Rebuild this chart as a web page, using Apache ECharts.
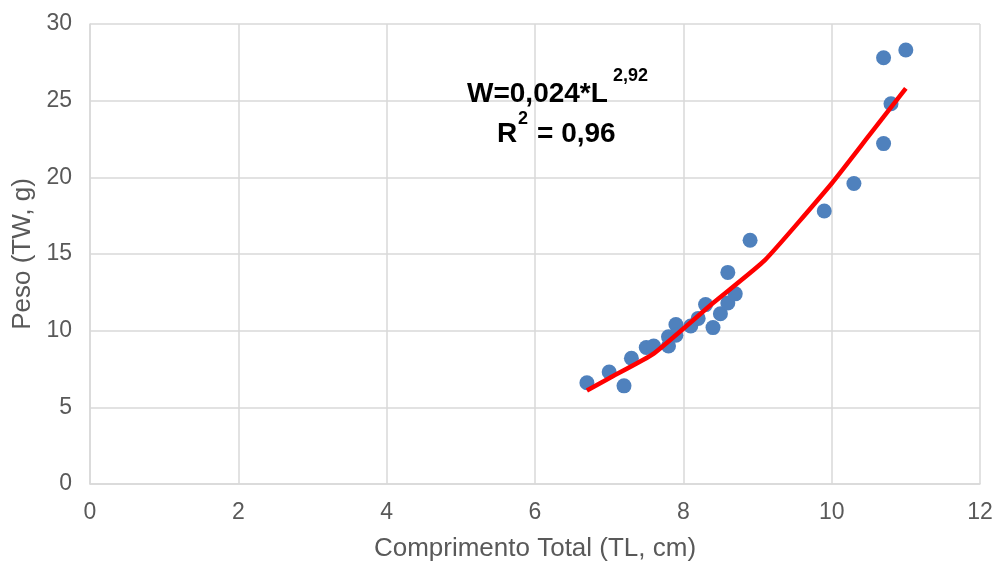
<!DOCTYPE html>
<html>
<head>
<meta charset="utf-8">
<script src="https://cdn.jsdelivr.net/npm/echarts@6/dist/echarts.min.js"></script>
<style>
html,body{margin:0;padding:0;background:#fff;}
#chart{width:997px;height:562px;}
</style>
</head>
<body>
<div id="chart"></div>
<script>
// Observed data (Comprimento Total, Peso)
var lengthTL = [6.7, 7.0, 7.2, 7.3, 7.5, 7.6, 7.8, 7.8, 7.9, 7.9, 8.1, 8.2, 8.3, 8.4, 8.5, 8.6, 8.6, 8.7, 8.9, 9.9, 10.3, 10.7, 10.7, 10.8, 11.0];
var weightTW = [6.6, 7.3, 6.4, 8.2, 8.9, 9.0, 9.0, 9.6, 10.4, 9.7, 10.3, 10.8, 11.7, 10.2, 11.1, 11.8, 13.8, 12.4, 15.9, 17.8, 19.6, 22.2, 27.8, 24.8, 28.3];

// Fitted curve
var fitX = [6.7, 7.0, 7.6, 8.4, 9.1, 10.0, 10.5, 11.0];
var fitY = [6.1, 6.9, 8.5, 11.8, 14.6, 19.6, 22.7, 25.8];

var xTicks = [0, 2, 4, 6, 8, 10, 12];
var yTicks = [0, 5, 10, 15, 20, 25, 30];

var equationMain = 'W=0,024*L';
var equationExp = '2,92';
var r2Label = 'R';
var r2Exp = '2';
var r2Value = '= 0,96';

var FONT = "'Liberation Sans', Arial, sans-serif";
var GRID = '#d9d9d9';
var TXT = '#595959';

var scatterData = lengthTL.map(function (x, i) { return [x, weightTW[i]]; });
var fitData = fitX.map(function (x, i) { return [x, fitY[i]]; });

var chart = echarts.init(document.getElementById('chart'), null, {renderer: 'canvas'});
chart.setOption({
  animation: false,
  backgroundColor: '#ffffff',
  grid: {left: 90, right: 17, top: 24, bottom: 78, containLabel: false, outerBoundsMode: 'none'},
  xAxis: {
    type: 'value',
    min: xTicks[0], max: xTicks[xTicks.length - 1], interval: 2,
    name: 'Comprimento Total (TL, cm)',
    nameLocation: 'middle', nameGap: 52,
    nameTextStyle: {color: TXT, fontSize: 26, fontFamily: FONT},
    axisLine: {show: true, lineStyle: {color: GRID, width: 1.5}},
    axisTick: {show: false},
    axisLabel: {color: TXT, fontSize: 23, fontFamily: FONT, margin: 17},
    splitLine: {show: true, lineStyle: {color: GRID, width: 1.5}}
  },
  yAxis: {
    type: 'value',
    min: yTicks[0], max: yTicks[yTicks.length - 1], interval: 5,
    name: 'Peso (TW, g)',
    nameLocation: 'middle', nameGap: 50,
    nameTextStyle: {color: TXT, fontSize: 26, fontFamily: FONT},
    axisLine: {show: true, lineStyle: {color: GRID, width: 1.5}},
    axisTick: {show: false},
    axisLabel: {color: TXT, fontSize: 23, fontFamily: FONT, margin: 18},
    splitLine: {show: true, lineStyle: {color: GRID, width: 1.5}}
  },
  series: [
    {
      type: 'scatter',
      data: scatterData,
      symbol: 'circle',
      symbolSize: 15,
      itemStyle: {color: '#4f81bd', opacity: 1},
      z: 2
    },
    {
      type: 'line',
      data: fitData,
      smooth: 0.15,
      showSymbol: false,
      symbol: 'none',
      lineStyle: {color: '#ff0000', width: 4.5},
      z: 3
    }
  ],
  graphic: [
    {type: 'text', left: 467, top: 80, z: 10,
      style: {text: equationMain, font: 'bold 28px ' + FONT, fill: '#000'}},
    {type: 'text', left: 613, top: 67, z: 10,
      style: {text: equationExp, font: 'bold 18px ' + FONT, fill: '#000'}},
    {type: 'text', left: 497, top: 120, z: 10,
      style: {text: r2Label, font: 'bold 28px ' + FONT, fill: '#000'}},
    {type: 'text', left: 518, top: 110, z: 10,
      style: {text: r2Exp, font: 'bold 18px ' + FONT, fill: '#000'}},
    {type: 'text', left: 537, top: 120, z: 10,
      style: {text: r2Value, font: 'bold 28px ' + FONT, fill: '#000'}}
  ]
});
</script>
</body>
</html>
